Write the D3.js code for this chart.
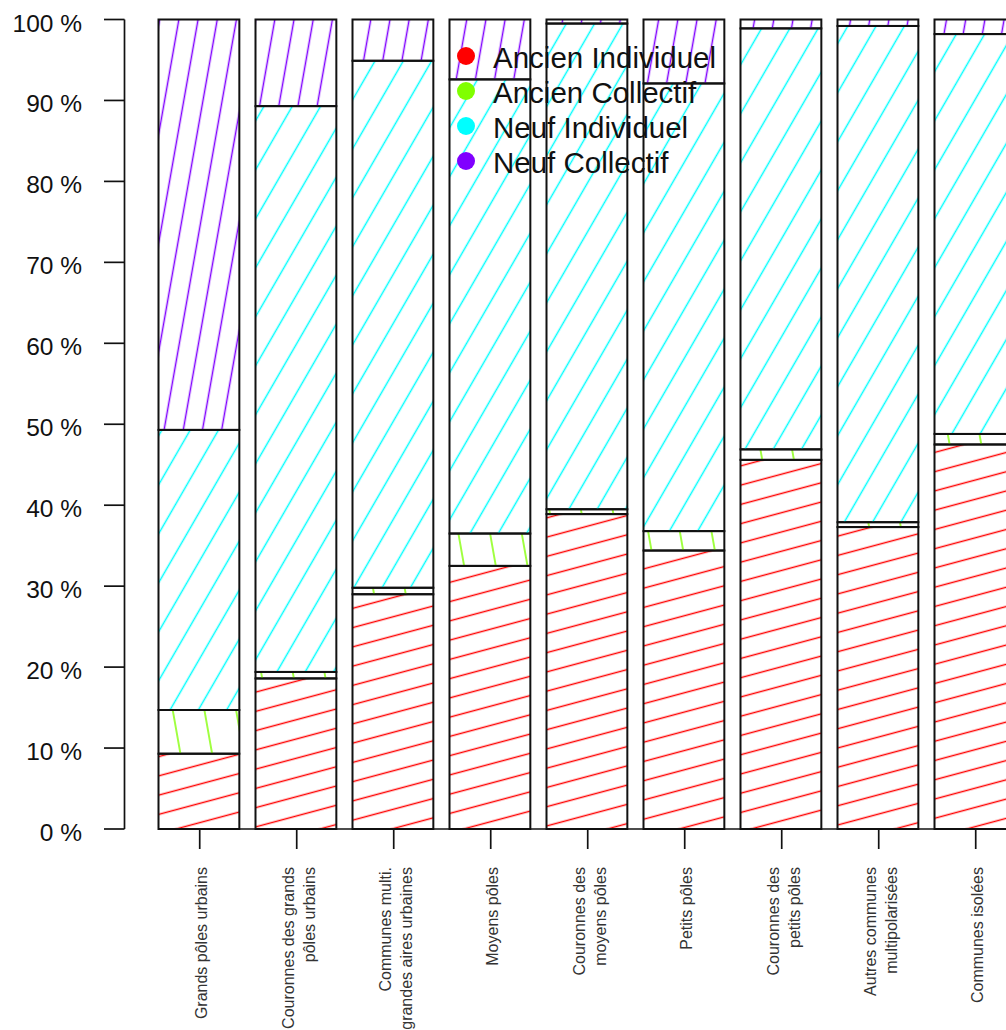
<!DOCTYPE html>
<html>
<head>
<meta charset="utf-8">
<script src="https://cdn.jsdelivr.net/npm/d3@7"></script>
<style>
  html, body { margin: 0; padding: 0; background: #fff; overflow: hidden; }
  svg { display: block; }
  text { font-family: "Liberation Sans", Arial, sans-serif; }
</style>
</head>
<body>
<script>
// Types de logements par catégorie de commune (parts en %)
const categories = [
  "Grands pôles urbains",
  "Couronnes des grands\npôles urbains",
  "Communes multi.\ngrandes aires urbaines",
  "Moyens pôles",
  "Couronnes des\nmoyens pôles",
  "Petits pôles",
  "Couronnes des\npetits pôles",
  "Autres communes\nmultipolarisées",
  "Communes isolées"
];
const seriesNames = ["Ancien Individuel", "Ancien Collectif", "Neuf Individuel", "Neuf Collectif"];
const ancienIndividuel = [9.3, 18.6, 29.0, 32.5, 38.9, 34.4, 45.6, 37.3, 47.5];
const ancienCollectif  = [5.4, 0.8, 0.8, 4.0, 0.6, 2.4, 1.3, 0.6, 1.3];
const neufIndividuel   = [34.6, 69.9, 65.1, 56.1, 60.0, 55.3, 52.0, 61.3, 49.4];
const neufCollectif    = [50.7, 10.7, 5.1, 7.4, 0.5, 7.9, 1.1, 0.8, 1.8];
const yTicks = [0, 10, 20, 30, 40, 50, 60, 70, 80, 90, 100];

const colors = ["#FF0000", "#80FF00", "#00FFFF", "#8000FF"];
// hatch angle (degrees) and line spacing (px) per series
const hatchAngle = [15, 100, 60, 80];
const hatchGap = [18.6, 31.2, 24.5, 18.9];

const W = 1006, H = 1030;
const svg = d3.select("body").append("svg").attr("width", W).attr("height", H);

const rows = categories.map((c, i) => ({
  cat: c,
  "Ancien Individuel": ancienIndividuel[i],
  "Ancien Collectif": ancienCollectif[i],
  "Neuf Individuel": neufIndividuel[i],
  "Neuf Collectif": neufCollectif[i]
}));
const stacked = d3.stack().keys(seriesNames)(rows);

const y = d3.scaleLinear().domain([0, 100]).range([829, 19.5]);
const pad = 0.2 / 1.2;
const step = 97;
const x0 = 158.5;
const x = d3.scaleBand().domain(categories)
  .range([x0, x0 + step * (categories.length - pad)])
  .paddingInner(pad).paddingOuter(0);

// hatch patterns
const defs = svg.append("defs");
seriesNames.forEach((s, i) => {
  const g = hatchGap[i];
  const p = defs.append("pattern")
    .attr("id", "hatch" + i)
    .attr("patternUnits", "userSpaceOnUse")
    .attr("width", 200).attr("height", g)
    .attr("patternTransform", `rotate(${-hatchAngle[i]})`);
  p.append("line")
    .attr("x1", -2).attr("x2", 202)
    .attr("y1", g / 2).attr("y2", g / 2)
    .attr("stroke", colors[i])
    .attr("stroke-width", 1.5);
});

// stacked bars
const layers = svg.append("g").selectAll("g").data(stacked).join("g");
layers.selectAll("rect")
  .data((d, i) => d.map(v => ({ v, i })))
  .join("rect")
  .attr("x", d => x(d.v.data.cat))
  .attr("width", x.bandwidth())
  .attr("y", d => y(d.v[1]))
  .attr("height", d => y(d.v[0]) - y(d.v[1]))
  .attr("fill", d => `url(#hatch${d.i})`)
  .attr("stroke", "#111")
  .attr("stroke-width", 2);

// y axis
const yAxis = svg.append("g").attr("stroke", "#111").attr("stroke-width", 1.7);
yAxis.append("line")
  .attr("x1", 124.5).attr("x2", 124.5)
  .attr("y1", y(0)).attr("y2", y(100));
yAxis.selectAll("line.tick").data(yTicks).join("line")
  .attr("class", "tick")
  .attr("x1", 104).attr("x2", 124.5)
  .attr("y1", d => y(d)).attr("y2", d => y(d));
svg.append("g").selectAll("text").data(yTicks).join("text")
  .attr("x", 82)
  .attr("y", d => y(d) + 3.5)
  .attr("text-anchor", "end")
  .attr("dominant-baseline", "central")
  .attr("font-size", 24.5)
  .attr("fill", "#111")
  .text(d => d + " %");

// x axis
const xAxis = svg.append("g").attr("stroke", "#111").attr("stroke-width", 1.7);
xAxis.append("line")
  .attr("x1", x0).attr("x2", W)
  .attr("y1", y(0)).attr("y2", y(0));
xAxis.selectAll("line.tick").data(categories).join("line")
  .attr("class", "tick")
  .attr("x1", d => x(d) + x.bandwidth() / 2 + 0.8)
  .attr("x2", d => x(d) + x.bandwidth() / 2 + 0.8)
  .attr("y1", y(0)).attr("y2", 849);

// category labels, vertical, reading upwards
const labG = svg.append("g");
categories.forEach(c => {
  const lines = c.split("\n");
  const cx = x(c) + x.bandwidth() / 2 + 3;
  const lh = 21;
  lines.forEach((ln, k) => {
    const lx = cx + (k - (lines.length - 1) / 2) * lh;
    labG.append("text")
      .attr("transform", `translate(${lx},867) rotate(-90)`)
      .attr("text-anchor", "end")
      .attr("dominant-baseline", "central")
      .attr("font-size", 16)
      .attr("fill", "#333")
      .text(ln);
  });
});

// legend
const leg = svg.append("g").selectAll("g").data(seriesNames).join("g")
  .attr("transform", (d, i) => `translate(466,${56 + i * 35})`);
leg.append("circle").attr("r", 9).attr("fill", (d, i) => colors[i]);
leg.append("text")
  .attr("x", 27).attr("y", 1.5)
  .attr("dominant-baseline", "central")
  .attr("font-size", 29.5)
  .attr("fill", "#111")
  .text(d => d);
</script>
</body>
</html>
